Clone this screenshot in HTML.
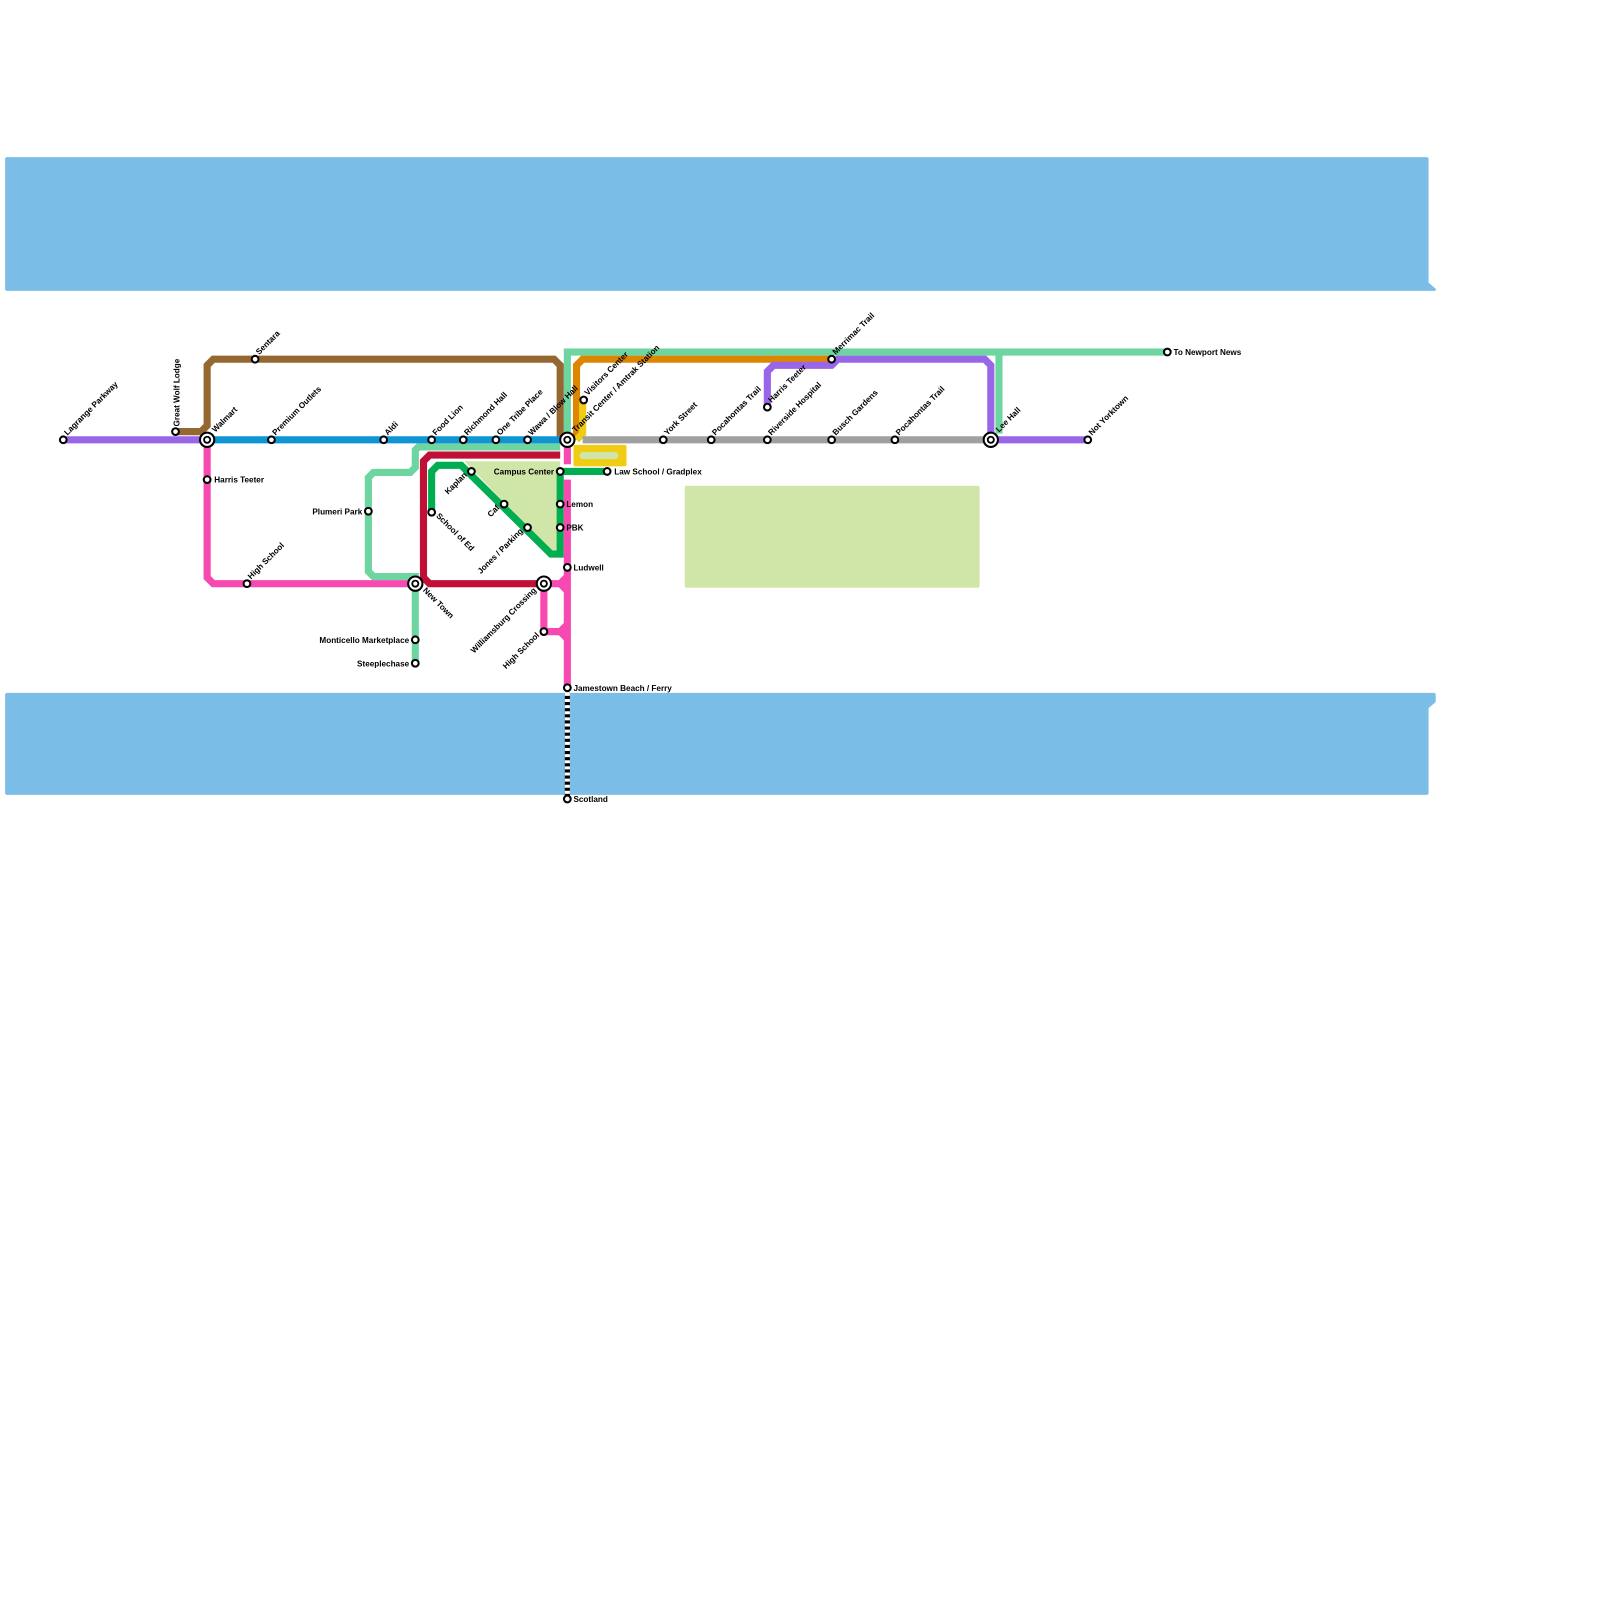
<!DOCTYPE html>
<html><head><meta charset="utf-8"><style>
html,body{margin:0;padding:0;background:#fff;overflow:hidden}
svg{display:block}
text{font-family:"Liberation Sans",Arial,sans-serif;font-weight:bold;font-size:8px;fill:#000}
</style></head><body>
<svg width="1600" height="1600" viewBox="0 0 1600 1600" xmlns="http://www.w3.org/2000/svg">
<g transform="scale(1.0204)">
<!-- water -->
<path d="M7,154 H1398 Q1400,154 1400,156 V277 L1407,283 V285 H7 Q5,285 5,283 V156 Q5,154 7,154Z" fill="#7abde6"/>
<path d="M7,679 H1405 Q1407,679 1407,681 V688 L1400,694 V777 Q1400,779 1398,779 H7 Q5,779 5,777 V681 Q5,679 7,679Z" fill="#7abde6"/>
<!-- park -->
<rect x="671" y="476" width="289" height="100" rx="2" fill="#d0e5a8"/>
<polygon points="455,452 549,452 549,540 540,540" fill="#d0e5a8"/>
<g fill="none" stroke-width="7" stroke-linejoin="miter">
<path d="M556,431 V345 H1144" stroke="#6dd5a0"/>
<path d="M979,345 V425" stroke="#6dd5a0"/>
<path d="M549,438 H410 L407,441 V458 L402,463 H366 L361,468 V560 L366,565 H407 V650" stroke="#6dd5a0"/>
<path d="M172,423 H197 L203,417 V358 L209,352 H543 L549,358 V431" stroke="#956832"/>
<path d="M565,431 V358 L571,352 H815" stroke="#de8600"/>
<path d="M62,431 H203" stroke="#9966e8"/>
<path d="M971,431 H1066" stroke="#9966e8"/>
<path d="M752,399 V364 L758,358 H815 L821,352 H965 L971,358 V431" stroke="#9966e8"/>
<path d="M571,392 V425 L565,431" stroke="#f0cc14"/>
<path d="M203,431 H556" stroke="#0f94d4"/>
<path d="M571,431 H971" stroke="#a0a0a0"/>
<path d="M549,446 H421 L415,452 V566 L421,572 H533" stroke="#c01035"/>
<path d="M423,502 V462 L429,456 H452 L458,462 L540,543 H549 V462 H595" stroke="#00ad50"/>
<path d="M203,431 V566 L209,572 H407" stroke="#f64ab0"/>
<path d="M556,431 V455" stroke="#f64ab0"/>
<path d="M556,470 V676" stroke="#f64ab0"/>
<path d="M533,572 V619 H549 L556,612 M549,619 L556,626 M533,572 H549 L556,565 M549,572 L556,579" stroke="#f64ab0"/>
</g>
<rect x="562" y="436" width="52" height="21" rx="2" fill="#f0cc14"/>
<rect x="568" y="443" width="38" height="7" rx="3.5" fill="#d0e5a8"/>
<line x1="556" y1="679" x2="556" y2="781" stroke="#000" stroke-width="5"/>
<line x1="556" y1="679" x2="556" y2="781" stroke="#fff" stroke-width="5" stroke-dasharray="3,3"/>
<g fill="#fff" stroke="#000" stroke-width="2">
<circle cx="62" cy="431" r="3.3"/><circle cx="172" cy="423" r="3.3"/><circle cx="250" cy="352" r="3.3"/>
<circle cx="266" cy="431" r="3.3"/><circle cx="376" cy="431" r="3.3"/><circle cx="423" cy="431" r="3.3"/>
<circle cx="454" cy="431" r="3.3"/><circle cx="486" cy="431" r="3.3"/><circle cx="517" cy="431" r="3.3"/>
<circle cx="203" cy="470" r="3.3"/><circle cx="242" cy="572" r="3.3"/><circle cx="361" cy="501" r="3.3"/>
<circle cx="423" cy="502" r="3.3"/><circle cx="462" cy="462" r="3.3"/><circle cx="494" cy="494" r="3.3"/>
<circle cx="517" cy="517" r="3.3"/><circle cx="549" cy="462" r="3.3"/><circle cx="549" cy="494" r="3.3"/>
<circle cx="549" cy="517" r="3.3"/><circle cx="556" cy="556" r="3.3"/><circle cx="595" cy="462" r="3.3"/>
<circle cx="407" cy="627" r="3.3"/><circle cx="407" cy="650" r="3.3"/><circle cx="533" cy="619" r="3.3"/>
<circle cx="556" cy="674" r="3.3"/><circle cx="556" cy="783" r="3.3"/><circle cx="572" cy="392" r="3.3"/>
<circle cx="650" cy="431" r="3.3"/><circle cx="697" cy="431" r="3.3"/><circle cx="752" cy="399" r="3.3"/>
<circle cx="752" cy="431" r="3.3"/><circle cx="815" cy="352" r="3.3"/><circle cx="815" cy="431" r="3.3"/>
<circle cx="877" cy="431" r="3.3"/><circle cx="1066" cy="431" r="3.3"/><circle cx="1144" cy="345" r="3.3"/>
<circle cx="203" cy="431" r="7"/><circle cx="556" cy="431" r="7"/><circle cx="407" cy="572" r="7"/>
<circle cx="533" cy="572" r="7"/><circle cx="971" cy="431" r="7"/>
</g>
<g fill="none" stroke="#000" stroke-width="1.8"><circle cx="203" cy="431" r="3"/><circle cx="556" cy="431" r="3"/><circle cx="407" cy="572" r="3"/><circle cx="533" cy="572" r="3"/><circle cx="971" cy="431" r="3"/></g>
<g>
<text transform="translate(66,427) rotate(-45)">Lagrange Parkway</text>
<text transform="translate(176,418) rotate(-90)">Great Wolf Lodge</text>
<text transform="translate(254,348) rotate(-45)">Sentara</text>
<text transform="translate(211,424) rotate(-45)">Walmart</text>
<text transform="translate(270,427) rotate(-45)">Premium Outlets</text>
<text transform="translate(380,427) rotate(-45)">Aldi</text>
<text transform="translate(427,427) rotate(-45)">Food Lion</text>
<text transform="translate(458,427) rotate(-45)">Richmond Hall</text>
<text transform="translate(490,427) rotate(-45)">One Tribe Place</text>
<text transform="translate(521,427) rotate(-45)">Wawa / Blow Hall</text>
<text transform="translate(564,424) rotate(-45)">Transit Center / Amtrak Station</text>
<text transform="translate(576,388) rotate(-45)">Visitors Center</text>
<text transform="translate(654,427) rotate(-45)">York Street</text>
<text transform="translate(701,427) rotate(-45)">Pocahontas Trail</text>
<text transform="translate(756,395) rotate(-45)">Harris Teeter</text>
<text transform="translate(756,427) rotate(-45)">Riverside Hospital</text>
<text transform="translate(819,348) rotate(-45)">Merrimac Trail</text>
<text transform="translate(819,427) rotate(-45)">Busch Gardens</text>
<text transform="translate(881,427) rotate(-45)">Pocahontas Trail</text>
<text transform="translate(979,424) rotate(-45)">Lee Hall</text>
<text transform="translate(1070,427) rotate(-45)">Not Yorktown</text>
<text transform="translate(246,568) rotate(-45)">High School</text>
<text transform="translate(427,506) rotate(45)">School of Ed</text>
<text transform="translate(414,579) rotate(45)">New Town</text>
<text text-anchor="end" transform="translate(458,466) rotate(-45)">Kaplan</text>
<text text-anchor="end" transform="translate(490,498) rotate(-45)">Caf</text>
<text text-anchor="end" transform="translate(513,521) rotate(-45)">Jones / Parking</text>
<text text-anchor="end" transform="translate(526,579) rotate(-45)">Williamsburg Crossing</text>
<text text-anchor="end" transform="translate(529,623) rotate(-45)">High School</text>
</g>
<text x="210" y="473">Harris Teeter</text>
<text x="355" y="504" text-anchor="end">Plumeri Park</text>
<text x="543" y="465" text-anchor="end">Campus Center</text>
<text x="555" y="497">Lemon</text>
<text x="555" y="520">PBK</text>
<text x="562" y="559">Ludwell</text>
<text x="602" y="465">Law School / Gradplex</text>
<text x="401" y="630" text-anchor="end">Monticello Marketplace</text>
<text x="401" y="653" text-anchor="end">Steeplechase</text>
<text x="562" y="677">Jamestown Beach / Ferry</text>
<text x="562" y="786">Scotland</text>
<text x="1150" y="348">To Newport News</text>
</g>
</svg>
</body></html>
